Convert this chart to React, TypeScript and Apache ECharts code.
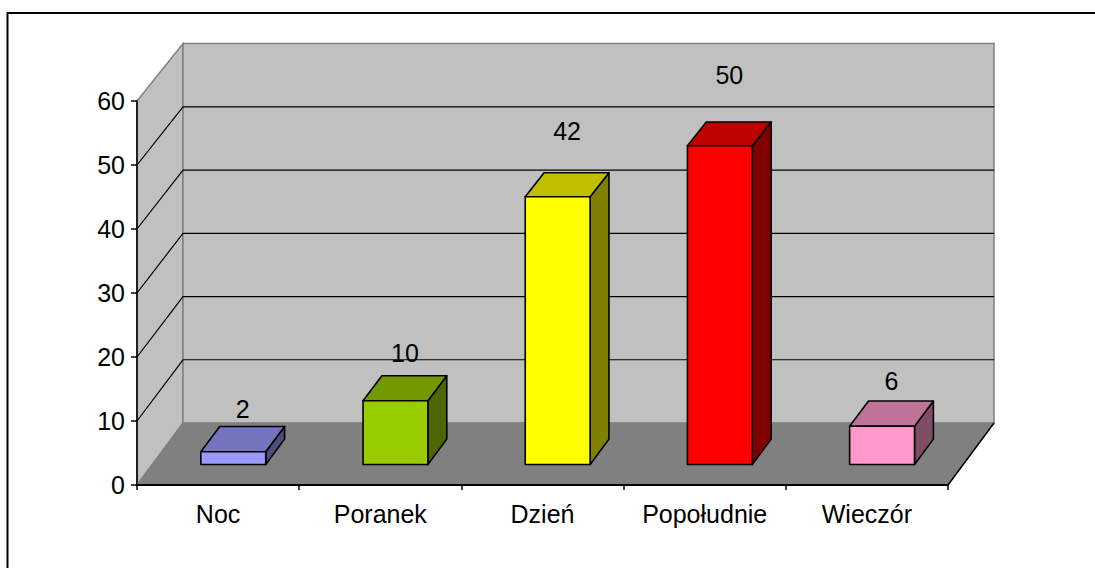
import React, { useEffect, useRef } from "react";
import * as echarts from "echarts";

const categories = ["Noc", "Poranek", "Dzień", "Popołudnie", "Wieczór"];
const values = [2, 10, 42, 50, 6];
const yTicks = [0, 10, 20, 30, 40, 50, 60];
const barColors = ["#9999FF", "#99CC00", "#FFFF00", "#FF0000", "#FF99CC"];

const FONT = "'Liberation Sans', Arial, sans-serif";
const FONT_SIZE = 25;
const DEPTH_X = 46;
const DEPTH_Y = -62;
const BACK_SHRINK = 0.012;
const BAR_FRONT = 0.33;
const BAR_BACK = 0.74;
const BAR_WIDTH = 0.4;
const LABEL_RISE = 1.1;
const WALL = "#C0C0C0";
const FLOOR = "#808080";
const EDGE = "#808080";

function shade(hex: string, k: number): string {
  const n = parseInt(hex.slice(1), 16);
  const r = Math.round(((n >> 16) & 255) * k);
  const g = Math.round(((n >> 8) & 255) * k);
  const b = Math.round((n & 255) * k);
  return `rgb(${r},${g},${b})`;
}

function makeProj(api: any) {
  const y0 = api.coord([0, 0])[1];
  return (x: number, v: number, d: number): number[] => {
    const yv = api.coord([0, v])[1];
    return [x + d * DEPTH_X, y0 + (yv - y0) * (1 - BACK_SHRINK * d) + d * DEPTH_Y];
  };
}

export default function App() {
  const ref = useRef<HTMLDivElement>(null);
  useEffect(() => {
    document.body.style.margin = "0";
    const chart = echarts.init(ref.current!, null, { renderer: "svg" });
    const yMax = yTicks[yTicks.length - 1];

    const frameRender = (params: any, api: any) => {
      const cs = params.coordSys;
      const proj = makeProj(api);
      const left = cs.x;
      const right = cs.x + cs.width;
      const children: any[] = [];
      children.push({
        type: "polygon",
        shape: { points: [proj(left, 0, 0), proj(left, yMax, 0), proj(left, yMax, 1), proj(left, 0, 1)] },
        style: { fill: WALL, stroke: EDGE, lineWidth: 1.5 },
      });
      children.push({
        type: "polygon",
        shape: { points: [proj(left, 0, 1), proj(left, yMax, 1), proj(right, yMax, 1), proj(right, 0, 1)] },
        style: { fill: WALL, stroke: EDGE, lineWidth: 1.5 },
      });
      children.push({
        type: "polygon",
        shape: { points: [proj(left, 0, 0), proj(right, 0, 0), proj(right, 0, 1), proj(left, 0, 1)] },
        style: { fill: FLOOR, stroke: EDGE, lineWidth: 1 },
      });
      yTicks.forEach((v) => {
        if (v === 0 || v === yMax) return;
        children.push({
          type: "polyline",
          shape: { points: [proj(left, v, 0), proj(left, v, 1), proj(right, v, 1)] },
          style: { fill: null, stroke: "#000", lineWidth: 1.2 },
        });
      });
      const a = proj(right, 0, 0);
      const b = proj(right, 0, 1);
      children.push({
        type: "line",
        shape: { x1: a[0], y1: a[1], x2: b[0], y2: b[1] },
        style: { stroke: "#000", lineWidth: 1.5 },
      });
      return { type: "group", children };
    };

    const barRender = (params: any, api: any) => {
      const proj = makeProj(api);
      const i = api.value(0);
      const v = api.value(1);
      const c = api.coord([i, 0]);
      const band = api.size([1, 0])[0];
      const w = band * BAR_WIDTH;
      const xl = c[0] - w / 2;
      const xr = c[0] + w / 2;
      const fbl = proj(xl, 0, BAR_FRONT);
      const fbr = proj(xr, 0, BAR_FRONT);
      const ftl = proj(xl, v, BAR_FRONT);
      const ftr = proj(xr, v, BAR_FRONT);
      const btl = proj(xl, v, BAR_BACK);
      const btr = proj(xr, v, BAR_BACK);
      const bbr = proj(xr, 0, BAR_BACK);
      const col = barColors[params.dataIndex];
      const stroke = { stroke: "#000", lineWidth: 1.6, lineJoin: "round" };
      const mid = (BAR_FRONT + BAR_BACK) / 2;
      const ly = proj(c[0], v * LABEL_RISE, 1)[1];
      return {
        type: "group",
        children: [
          { type: "polygon", shape: { points: [fbr, ftr, btr, bbr] }, style: { fill: shade(col, 0.5), ...stroke } },
          { type: "polygon", shape: { points: [ftl, ftr, btr, btl] }, style: { fill: shade(col, 0.75), ...stroke } },
          { type: "polygon", shape: { points: [fbl, fbr, ftr, ftl] }, style: { fill: col, ...stroke } },
          {
            type: "text",
            style: {
              text: String(v),
              x: c[0] + mid * DEPTH_X,
              y: ly,
              fill: "#000",
              fontSize: FONT_SIZE,
              fontFamily: FONT,
              align: "center",
              verticalAlign: "middle",
            },
          },
        ],
      };
    };

    chart.setOption({
      animation: false,
      backgroundColor: "#fff",
      grid: { left: 137, top: 101, width: 811, height: 384, containLabel: false },
      xAxis: {
        type: "category",
        data: categories,
        z: 5,
        axisLine: { show: true, lineStyle: { color: "#000", width: 2 } },
        axisTick: { show: true, interval: 0, length: 5, lineStyle: { color: "#000", width: 1.5 } },
        axisLabel: { color: "#000", fontSize: FONT_SIZE, fontFamily: FONT, margin: 16, interval: 0 },
        splitLine: { show: false },
      },
      yAxis: {
        type: "value",
        min: 0,
        max: yMax,
        interval: 10,
        z: 5,
        axisLine: { show: true, lineStyle: { color: "#000", width: 1.6 } },
        axisTick: { show: true, length: 6, lineStyle: { color: "#000", width: 1.5 } },
        axisLabel: { color: "#000", fontSize: FONT_SIZE, fontFamily: FONT, margin: 12 },
        splitLine: { show: false },
      },
      graphic: [
        {
          type: "rect",
          shape: { x: 7.5, y: 13, width: 1100, height: 600 },
          style: { fill: "none", stroke: "#000", lineWidth: 2 },
          silent: true,
        },
      ],
      series: [
        {
          type: "custom",
          name: "frame",
          coordinateSystem: "cartesian2d",
          renderItem: frameRender,
          data: [[0, 0]],
          encode: { x: 0, y: 1 },
          clip: false,
          silent: true,
          z: 1,
        },
        {
          type: "custom",
          name: "bars",
          coordinateSystem: "cartesian2d",
          renderItem: barRender,
          data: values.map((v, i) => [i, v]),
          encode: { x: 0, y: 1 },
          clip: false,
          silent: true,
          z: 6,
        },
      ],
    });
    return () => chart.dispose();
  }, []);
  return <div ref={ref} style={{ width: 1095, height: 568 }} />;
}
